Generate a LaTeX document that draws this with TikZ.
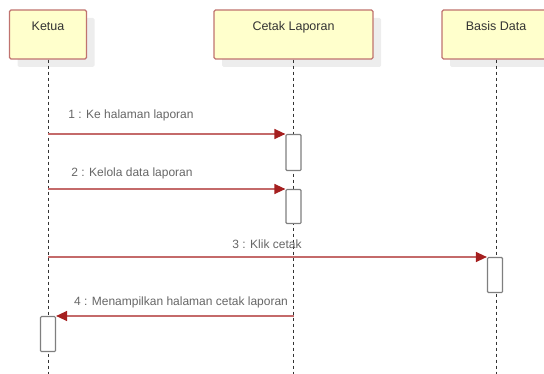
\documentclass[tikz,border=0pt]{standalone}
\usepackage{fontspec}
\setmainfont{Liberation Sans}
\usetikzlibrary{arrows.meta,shadows}
\definecolor{headfill}{HTML}{FFFFCC}
\definecolor{headline}{HTML}{C0736F}
\definecolor{msgline}{HTML}{C46A6A}
\definecolor{msgtip}{HTML}{A51F1F}
\definecolor{actline}{HTML}{7F7F7F}
\tikzset{
	head/.style={draw=headline, fill=headfill, line width=1.3pt, rounded corners=1.5pt,
		minimum height=49pt, inner xsep=0pt, inner ysep=0pt, text height=20.5pt, text depth=28.5pt,
		text=black!80, font=\fontsize{12.5}{15}\selectfont,
		drop shadow={shadow xshift=8pt, shadow yshift=-8pt, fill=black!7, opacity=1}},
	act/.style={draw=actline, fill=white, line width=1.2pt, rounded corners=1pt,
		minimum width=15pt, inner sep=0pt},
	lifeline/.style={densely dashed, dash pattern=on 3pt off 3pt, line width=0.8pt, black!80},
	msg/.style={draw=msgline, line width=1.4pt, -{Triangle[length=11pt,width=10pt,color=msgtip]}},
	msgtext/.style={text=black!60, font=\fontsize{12}{14}\selectfont, inner sep=0pt}
}

\begin{document}
\begin{tikzpicture}[x=1pt,y=-1pt]
			%%%%% START %%%%%
			\useasboundingbox (0,0) rectangle (544,374);
			\clip (0,0) rectangle (544,374);
			
			\node[head, minimum width=77pt] (ketua) at (48, 34.5) {Ketua};
			\node[head, minimum width=159pt] (cetak) at (293.5, 34.5) {Cetak Laporan};
			\node[head, minimum width=108pt] (basis) at (496, 34.5) {Basis Data};
			
			\coordinate (ketuaend) at (48, 374);
			\coordinate (cetakend) at (293.5, 374);
			\coordinate (basisend) at (496, 374);
			\draw[lifeline] (ketua.south) -- (ketuaend);
			\draw[lifeline] (cetak.south) -- (cetakend);
			\draw[lifeline] (basis.south) -- (basisend);
			
			\node[act, minimum height=36pt, anchor=north] (act1) at (293.5, 134) {};
			\node[act, minimum height=34pt, anchor=north] (act2) at (293.5, 189) {};
			\node[act, minimum height=35pt, anchor=north] (act3) at (495, 257) {};
			\node[act, minimum height=35pt, anchor=north] (act4) at (48, 316) {};
			
			\draw[msg] (ketua |- act1.north west) -- (act1.north west);
			\node[msgtext] (lbl1) at (131, 115) {1 : Ke halaman laporan};
			
			\draw[msg] (ketua |- act2.north west) -- (act2.north west);
			\node[msgtext] (lbl2) at (132, 173) {2 : Kelola data laporan};
			
			\draw[msg] (ketua |- act3.north west) -- (act3.north west);
			\node[msgtext] (lbl3) at (267, 244) {3 : Klik cetak};
			
			\draw[msg] (cetak |- act4.north east) -- (act4.north east);
			\node[msgtext] (lbl4) at (181, 302) {4 : Menampilkan halaman cetak laporan};
			%%%%% END %%%%%
\end{tikzpicture}
\end{document}
